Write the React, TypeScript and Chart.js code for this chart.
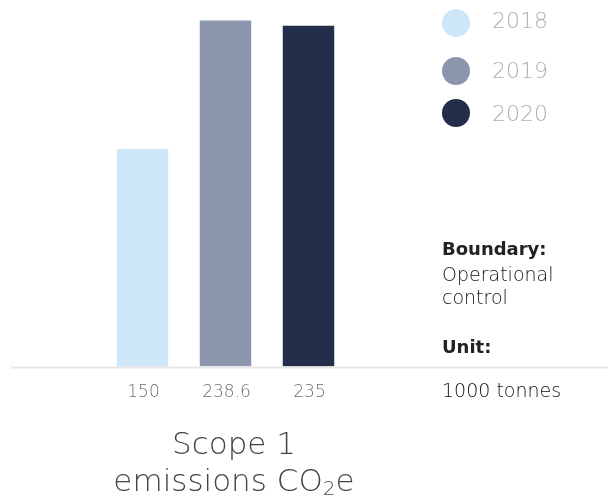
import React, { useEffect, useRef } from "react";
import { Chart, registerables } from "chart.js";

Chart.register(...registerables);

const categories = ["2018", "2019", "2020"];
const values = [150, 238.6, 235];
const valueLabels = ["150", "238.6", "235"];
const colors = ["#cfe8f9", "#8c97ae", "#232e4a"];
const yMax = 250;

const FONT = "'DejaVu Sans', 'Noto Sans', sans-serif";

const baselinePlugin = {
  id: "baselineAndLabels",
  afterDatasetsDraw(chart: any) {
    const { ctx } = chart;
    const y0 = chart.scales.y.getPixelForValue(0);
    ctx.save();
    ctx.strokeStyle = "#e6e6e6";
    ctx.lineWidth = 2;
    ctx.beginPath();
    ctx.moveTo(11, y0 + 1);
    ctx.lineTo(chart.width, y0 + 1);
    ctx.stroke();
    const meta = chart.getDatasetMeta(0);
    ctx.fillStyle = "#6f6f6f";
    ctx.font = `200 17px ${FONT}`;
    ctx.textAlign = "center";
    ctx.textBaseline = "alphabetic";
    meta.data.forEach((bar: any, i: number) => {
      ctx.fillText(valueLabels[i], bar.x + 1, y0 + 30);
    });
    ctx.restore();
  },
};

export default function App() {
  const ref = useRef<HTMLCanvasElement | null>(null);
  useEffect(() => {
    if (!ref.current) return;
    const chart = new Chart(ref.current, {
      type: "bar",
      data: {
        labels: categories,
        datasets: [
          {
            data: values,
            backgroundColor: colors,
            borderWidth: 0,
            barPercentage: 0.62,
            categoryPercentage: 1,
          },
        ],
      },
      options: {
        responsive: false,
        animation: false,
        layout: { padding: { left: 101, right: 258, top: 4, bottom: 136.5 } },
        plugins: { legend: { display: false }, tooltip: { enabled: false } },
        scales: {
          x: { display: false },
          y: { display: false, min: 0, max: yMax },
        },
      },
      plugins: [baselinePlugin],
    });
    return () => chart.destroy();
  }, []);

  const legendCenters = [23, 70.5, 113];
  const legendTextCenters = [20, 70, 113];
  const txt = (style: React.CSSProperties, content: React.ReactNode) => (
    <div style={{ position: "absolute", whiteSpace: "nowrap", fontFamily: FONT, ...style }}>{content}</div>
  );

  return (
    <div style={{ position: "fixed", left: 0, top: 0, width: 608, height: 503, background: "#fff", overflow: "hidden" }}>
      <canvas ref={ref} width={608} height={503} style={{ position: "absolute", left: 0, top: 0 }} />
      {categories.map((c, i) => (
        <React.Fragment key={c}>
          <div
            style={{
              position: "absolute",
              left: 456 - 14,
              top: legendCenters[i] - 14,
              width: 28,
              height: 28,
              borderRadius: "50%",
              background: colors[i],
            }}
          />
          {txt(
            { left: 492, top: legendTextCenters[i] - 16, fontSize: 22, lineHeight: "34px", color: "#b0b0b0", fontWeight: 200 },
            c
          )}
        </React.Fragment>
      ))}
      {txt({ left: 442, top: 237, fontSize: 18, lineHeight: "24px", color: "#222", fontWeight: 700 }, "Boundary:")}
      {txt({ left: 442, top: 263, fontSize: 19, lineHeight: "23px", color: "#111", fontWeight: 200 }, <>Operational<br />control</>)}
      {txt({ left: 442, top: 335, fontSize: 18, lineHeight: "24px", color: "#222", fontWeight: 700 }, "Unit:")}
      {txt({ left: 442, top: 378, fontSize: 19, lineHeight: "24px", color: "#111", fontWeight: 200 }, "1000 tonnes")}
      {txt(
        { left: 84, width: 300, top: 425, fontSize: 31, lineHeight: "37px", color: "#444", fontWeight: 200, textAlign: "center" },
        <>Scope 1<br />emissions CO<sub style={{ fontSize: 20, verticalAlign: "-4px", lineHeight: 0 }}>2</sub>e</>
      )}
    </div>
  );
}
